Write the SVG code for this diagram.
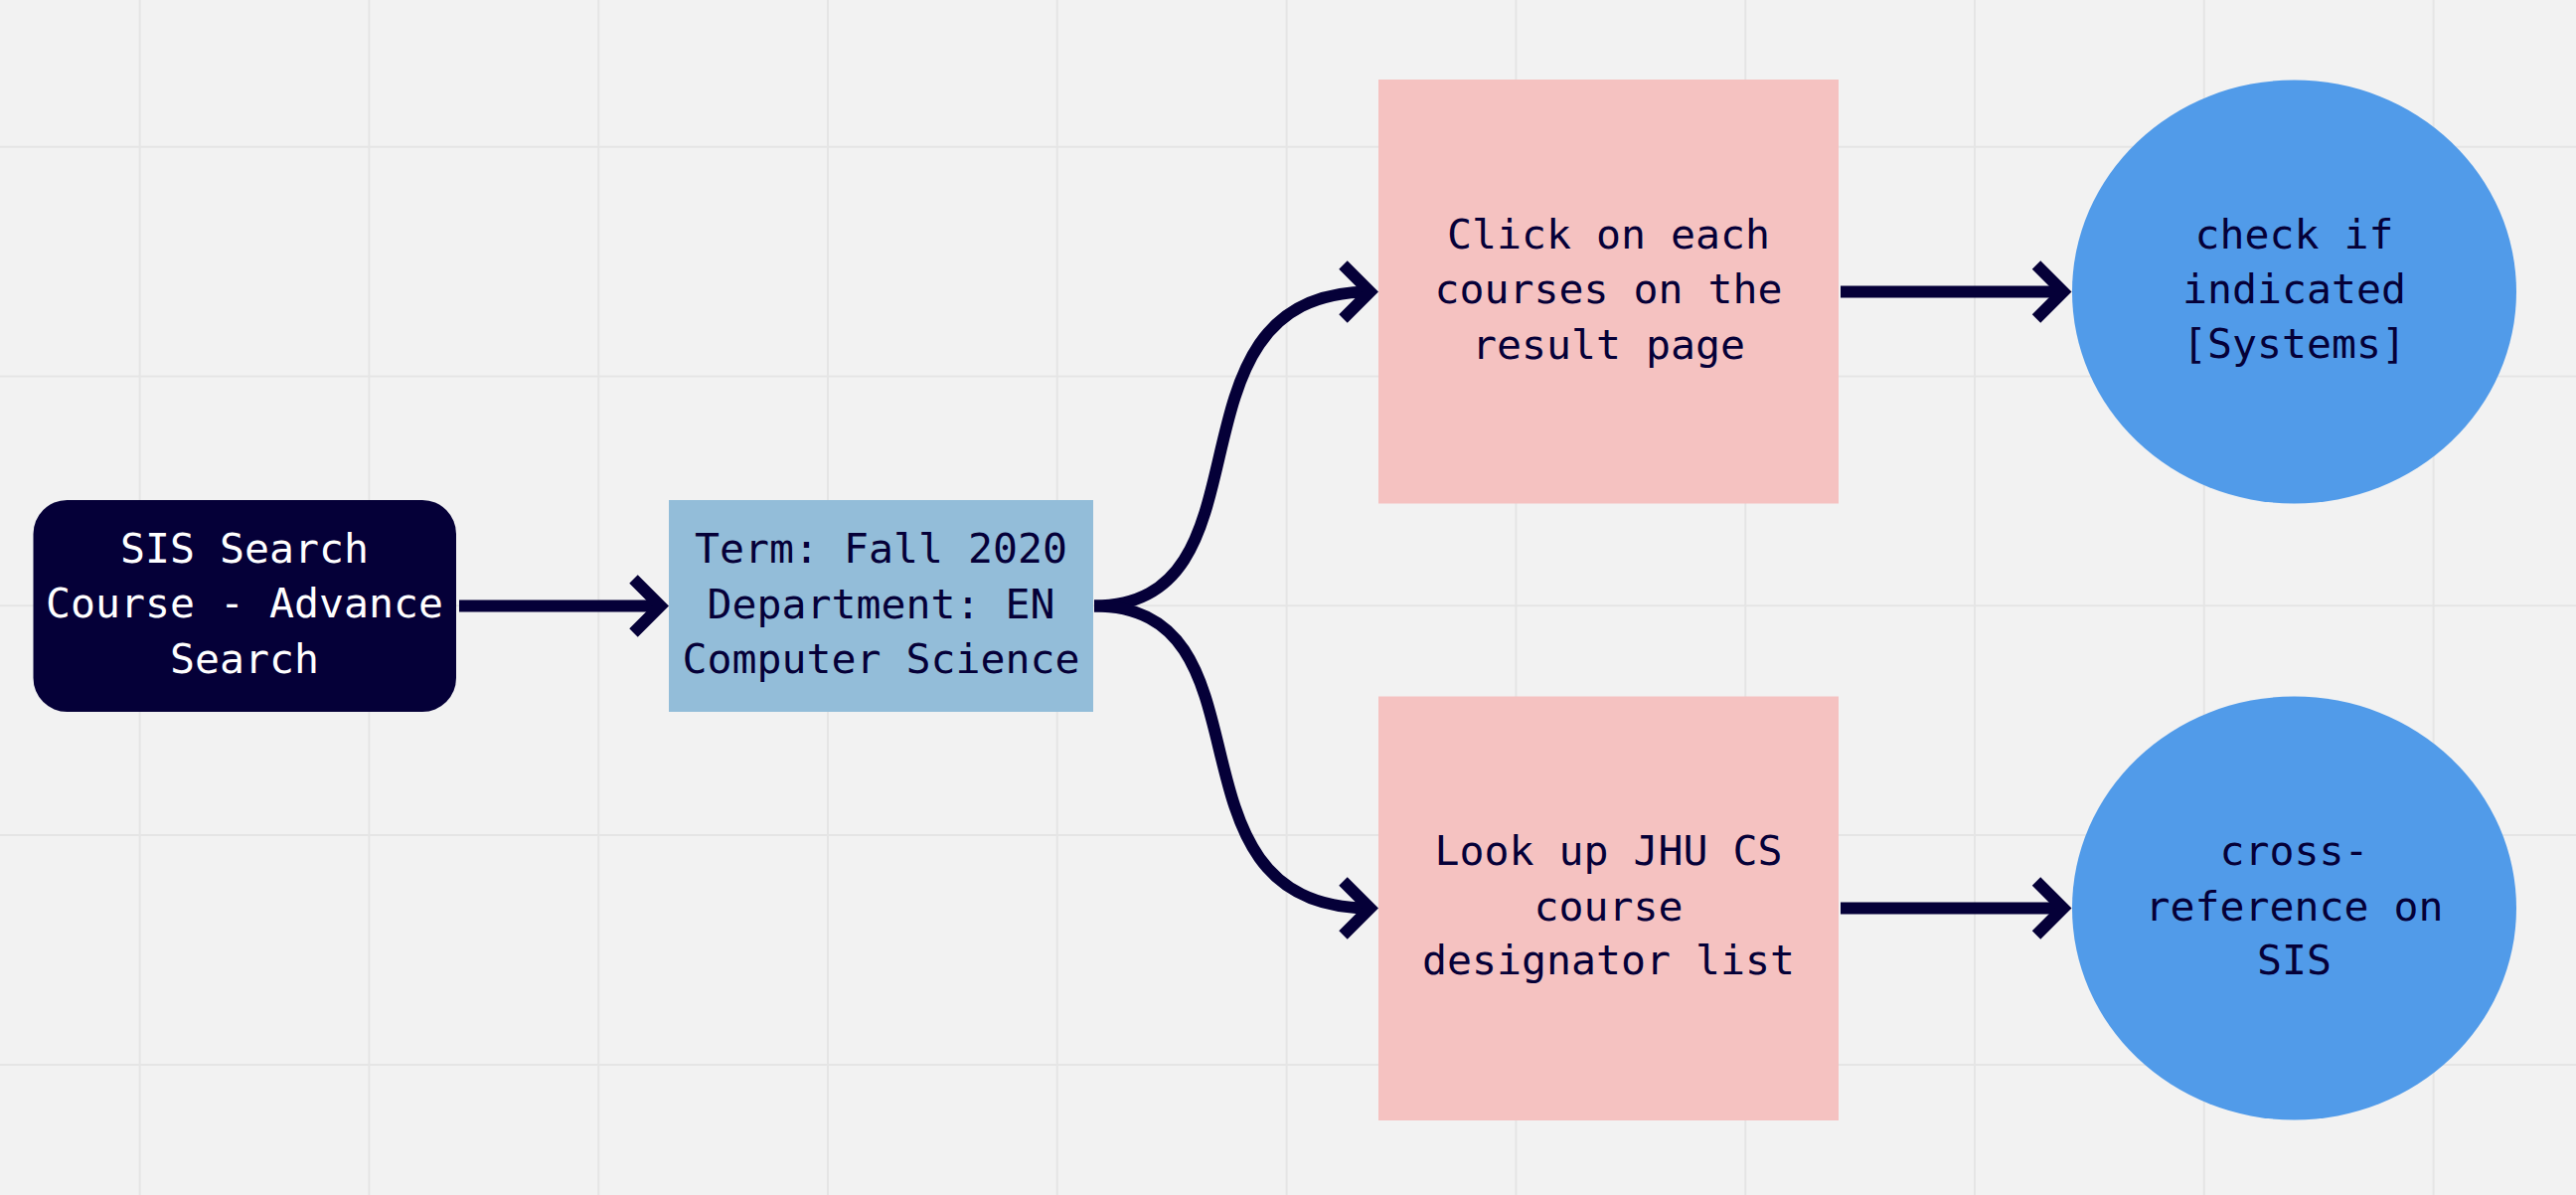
<svg xmlns="http://www.w3.org/2000/svg" width="2592" height="1202" viewBox="0 0 2592 1202">
  <style>
    .grid line { stroke: #e5e5e5; stroke-width: 2; }
    .t { font-family: "DejaVu Sans Mono", "Liberation Mono", monospace; font-size: 41.5px; text-anchor: middle; fill: #050038; }
    .tw { fill: #ffffff; }
    .conn { fill: none; stroke: #050038; stroke-width: 12; marker-end: url(#chev); }
  </style>
  <defs>
    <marker id="chev" markerUnits="userSpaceOnUse" orient="auto" refX="0" refY="0" markerWidth="120" markerHeight="120" viewBox="-60 -60 120 120" overflow="visible">
      <path d="M -27 -27 L 0 0 L -27 27" fill="none" stroke="#050038" stroke-width="12" stroke-linejoin="miter" stroke-miterlimit="10"/>
    </marker>
  </defs>
  <rect x="0" y="0" width="2592" height="1202" fill="#f2f2f2"/>
  <g class="grid">
    <line x1="140.6" y1="0" x2="140.6" y2="1202"/>
    <line x1="371.4" y1="0" x2="371.4" y2="1202"/>
    <line x1="602.2" y1="0" x2="602.2" y2="1202"/>
    <line x1="833" y1="0" x2="833" y2="1202"/>
    <line x1="1063.8" y1="0" x2="1063.8" y2="1202"/>
    <line x1="1294.6" y1="0" x2="1294.6" y2="1202"/>
    <line x1="1525.4" y1="0" x2="1525.4" y2="1202"/>
    <line x1="1756.2" y1="0" x2="1756.2" y2="1202"/>
    <line x1="1987" y1="0" x2="1987" y2="1202"/>
    <line x1="2217.8" y1="0" x2="2217.8" y2="1202"/>
    <line x1="2448.6" y1="0" x2="2448.6" y2="1202"/>
    <line x1="0" y1="147.7" x2="2592" y2="147.7"/>
    <line x1="0" y1="378.5" x2="2592" y2="378.5"/>
    <line x1="0" y1="609.3" x2="2592" y2="609.3"/>
    <line x1="0" y1="840.1" x2="2592" y2="840.1"/>
    <line x1="0" y1="1070.9" x2="2592" y2="1070.9"/>
  </g>
  <g id="connectors">
    <path class="conn" d="M 462 609.5 L 664.5 609.5"/>
    <path class="conn" d="M 1101 609.5 C 1290 609.5, 1160 293.5, 1378.5 293.5"/>
    <path class="conn" d="M 1101 609.5 C 1290 609.5, 1160 913.5, 1378.5 913.5"/>
    <path class="conn" d="M 1852 293.5 L 2076 293.5"/>
    <path class="conn" d="M 1852 913.5 L 2076 913.5"/>
  </g>
  <g id="node-sis">
    <rect x="33.5" y="503" width="425.5" height="213" rx="34" ry="34" fill="#050038"/>
    <text class="t tw" x="246" y="566">SIS Search</text>
    <text class="t tw" x="246" y="621">Course - Advance</text>
    <text class="t tw" x="246" y="676.5">Search</text>
  </g>
  <g id="node-term">
    <rect x="673" y="503" width="427" height="213" fill="#93bdd9"/>
    <text class="t" x="886.5" y="566">Term: Fall 2020</text>
    <text class="t" x="886.5" y="621.5">Department: EN</text>
    <text class="t" x="886.5" y="676.5">Computer Science</text>
  </g>
  <g id="node-click">
    <rect x="1387" y="80" width="463" height="426.5" fill="#f5c2c1"/>
    <text class="t" x="1618.5" y="250">Click on each</text>
    <text class="t" x="1618.5" y="305">courses on the</text>
    <text class="t" x="1618.5" y="360.5">result page</text>
  </g>
  <g id="node-lookup">
    <rect x="1387" y="700.5" width="463" height="426.5" fill="#f5c2c1"/>
    <text class="t" x="1618.5" y="870">Look up JHU CS</text>
    <text class="t" x="1618.5" y="925.5">course</text>
    <text class="t" x="1618.5" y="980">designator list</text>
  </g>
  <g id="node-check">
    <ellipse cx="2308.5" cy="293.5" rx="223.5" ry="213" fill="#519be9"/>
    <text class="t" x="2308.5" y="250">check if</text>
    <text class="t" x="2308.5" y="305">indicated</text>
    <text class="t" x="2308.5" y="360">[Systems]</text>
  </g>
  <g id="node-cross">
    <ellipse cx="2308.5" cy="913.5" rx="223.5" ry="213" fill="#519be9"/>
    <text class="t" x="2308.5" y="870">cross-</text>
    <text class="t" x="2308.5" y="925.5">reference on</text>
    <text class="t" x="2308.5" y="980">SIS</text>
  </g>
</svg>
